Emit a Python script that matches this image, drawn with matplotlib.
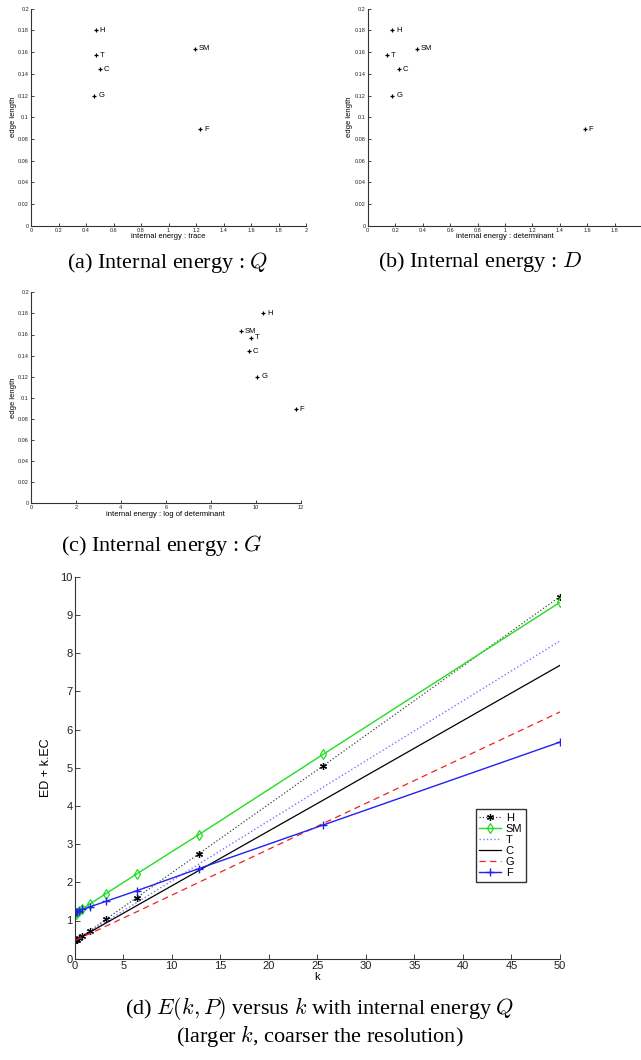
import numpy as np
import matplotlib
matplotlib.use("Agg")
from matplotlib import pyplot as plt
from matplotlib.ticker import FormatStrFormatter

plt.rcParams['font.family'] = ['Liberation Sans', 'DejaVu Sans']
plt.rcParams['mathtext.fontset'] = 'cm'

# noms des méthodes
metodos = ['H', 'SM', 'T', 'C', 'G', 'F']

# comprimento das arestas (eixo y dos 3 primeiros graficos)
edge_length = [0.180, 0.163, 0.157, 0.144, 0.120, 0.089]
# energia interna
energia_traco = [0.47, 1.19, 0.47, 0.50, 0.46, 1.23]
energia_det = [0.18, 0.357, 0.14, 0.226, 0.177, 1.58]
energia_logdet = [10.34, 9.33, 9.78, 9.69, 10.06, 11.77]

# grafico (d): E(k,P) em funcao de k
k = [0.1, 0.2, 0.4, 0.8, 1.6, 3.2, 6.4, 12.8, 25.6, 50]
E_H = [0.48, 0.50, 0.54, 0.60, 0.73, 1.03, 1.60, 2.75, 5.05, 9.48]
E_SM = [1.18, 1.20, 1.24, 1.31, 1.44, 1.70, 2.22, 3.25, 5.35, 9.33]
E_T = [0.49, 0.50, 0.53, 0.60, 0.72, 0.97, 1.47, 2.48, 4.49, 8.32]
E_C = [0.48, 0.50, 0.53, 0.59, 0.70, 0.93, 1.39, 2.31, 4.15, 7.68]
E_G = [0.49, 0.50, 0.52, 0.57, 0.66, 0.85, 1.23, 2.00, 3.54, 6.46]
E_F = [1.22, 1.23, 1.25, 1.29, 1.36, 1.50, 1.78, 2.36, 3.50, 5.67]

W, H = 641, 1060
fig = plt.figure(figsize=(W/100, H/100), dpi=100)

def eixo(x0, y_top, x1, y_bot):
    # cria eixo a partir de coordenadas em pixels
    return fig.add_axes([x0/W, 1-y_bot/H, (x1-x0)/W, (y_bot-y_top)/H])

def estilo(ax, tam, comp):
    ax.spines['top'].set_visible(False)
    ax.spines['right'].set_visible(False)
    for s in ['left', 'bottom']:
        ax.spines[s].set_linewidth(0.8)
        ax.spines[s].set_color('#333333')
    ax.tick_params(direction='in', labelsize=tam, length=comp, width=0.6, pad=1.5, colors='#222222')

def espalha(ax, xs, xlim, xticks, xlabel):
    ax.plot(xs, edge_length, '+', color='black', ms=3.5, mew=0.9)
    for xi, yi, nome in zip(xs, edge_length, metodos):
        ax.annotate(nome, (xi, yi), xytext=(3, 0), textcoords='offset points',
                    va='center', ha='left', fontsize=5.5)
    ax.set_xlim(xlim)
    ax.set_ylim(0, 0.2)
    ax.set_xticks(xticks)
    ax.set_yticks(np.arange(0, 0.201, 0.02))
    ax.xaxis.set_major_formatter(FormatStrFormatter('%g'))
    ax.yaxis.set_major_formatter(FormatStrFormatter('%g'))
    ax.set_xlabel(xlabel, fontsize=5.5, labelpad=0.5)
    ax.set_ylabel('edge length', fontsize=5.5, labelpad=1)
    estilo(ax, 4, 2)

ax_a = eixo(31, 8.7, 306, 225.7)
espalha(ax_a, energia_traco, (0, 2), np.arange(0, 2.01, 0.2), 'internal energy : trace')
ax_b = eixo(367.7, 8.7, 642.3, 225.7)
espalha(ax_b, energia_det, (0, 2), np.arange(0, 2.01, 0.2), 'internal energy : determinant')
ax_c = eixo(31, 292.3, 300.7, 503.3)
espalha(ax_c, energia_logdet, (0, 12), np.arange(0, 12.1, 2), 'internal energy : log of determinant')

# grafico (d)
ax_d = eixo(74.7, 576.7, 560, 958.7)
ax_d.plot(k, E_H, ':', color='#444444', lw=0.9, marker=(6, 2, 0), ms=5, mew=0.9, mec='black', label='H')
ax_d.plot(k, E_SM, '-', color='#22dd22', lw=1.0, marker='d', ms=5.5, mfc='none', mew=0.9, label='SM')
ax_d.plot(k, E_T, ':', color='#7777ff', lw=1.0, label='T')
ax_d.plot(k, E_C, '-', color='black', lw=0.9, label='C')
ax_d.plot(k, E_G, '--', color='#ee2222', lw=0.9, dashes=(5, 3.5), label='G')
ax_d.plot(k, E_F, '-', color='#2222ee', lw=1.0, marker='+', ms=6, mew=1.0, label='F')
ax_d.set_xlim(0, 50)
ax_d.set_ylim(0, 10)
ax_d.set_xticks(np.arange(0, 51, 5))
ax_d.set_yticks(np.arange(0, 11, 1))
ax_d.set_xlabel('k', fontsize=8, labelpad=1)
ax_d.set_ylabel('ED + k.EC', fontsize=9, labelpad=6)
estilo(ax_d, 8, 3.5)
ax_d.legend(loc='upper left', bbox_to_anchor=(475.7/W, 1-809.3/H), bbox_transform=fig.transFigure,
            fontsize=8, frameon=True, fancybox=False, edgecolor='black', handlelength=2.0,
            handletextpad=0.4, borderpad=0.3, labelspacing=0.1, borderaxespad=0)
ax_d.get_legend().get_frame().set_linewidth(1.0)

# legendas das figuras
serif = ['Liberation Serif', 'DejaVu Serif']
tam = 16
fig.text(168/W, 1-262/H, r'(a) Internal energy : $Q$', ha='center', va='center', fontsize=tam, family=serif)
fig.text(480/W, 1-262/H, r'(b) Internal energy : $D$', ha='center', va='center', fontsize=tam, family=serif)
fig.text(162/W, 1-545/H, r'(c) Internal energy : $G$', ha='center', va='center', fontsize=tam, family=serif)
fig.text(320/W, 1-1008/H, r'(d) $E(k,P)$ versus $k$ with internal energy $Q$', ha='center', va='center', fontsize=tam, family=serif)
fig.text(320/W, 1-1036/H, r'(larger $k$, coarser the resolution)', ha='center', va='center', fontsize=tam, family=serif)

plt.savefig('out.png', dpi=100)
